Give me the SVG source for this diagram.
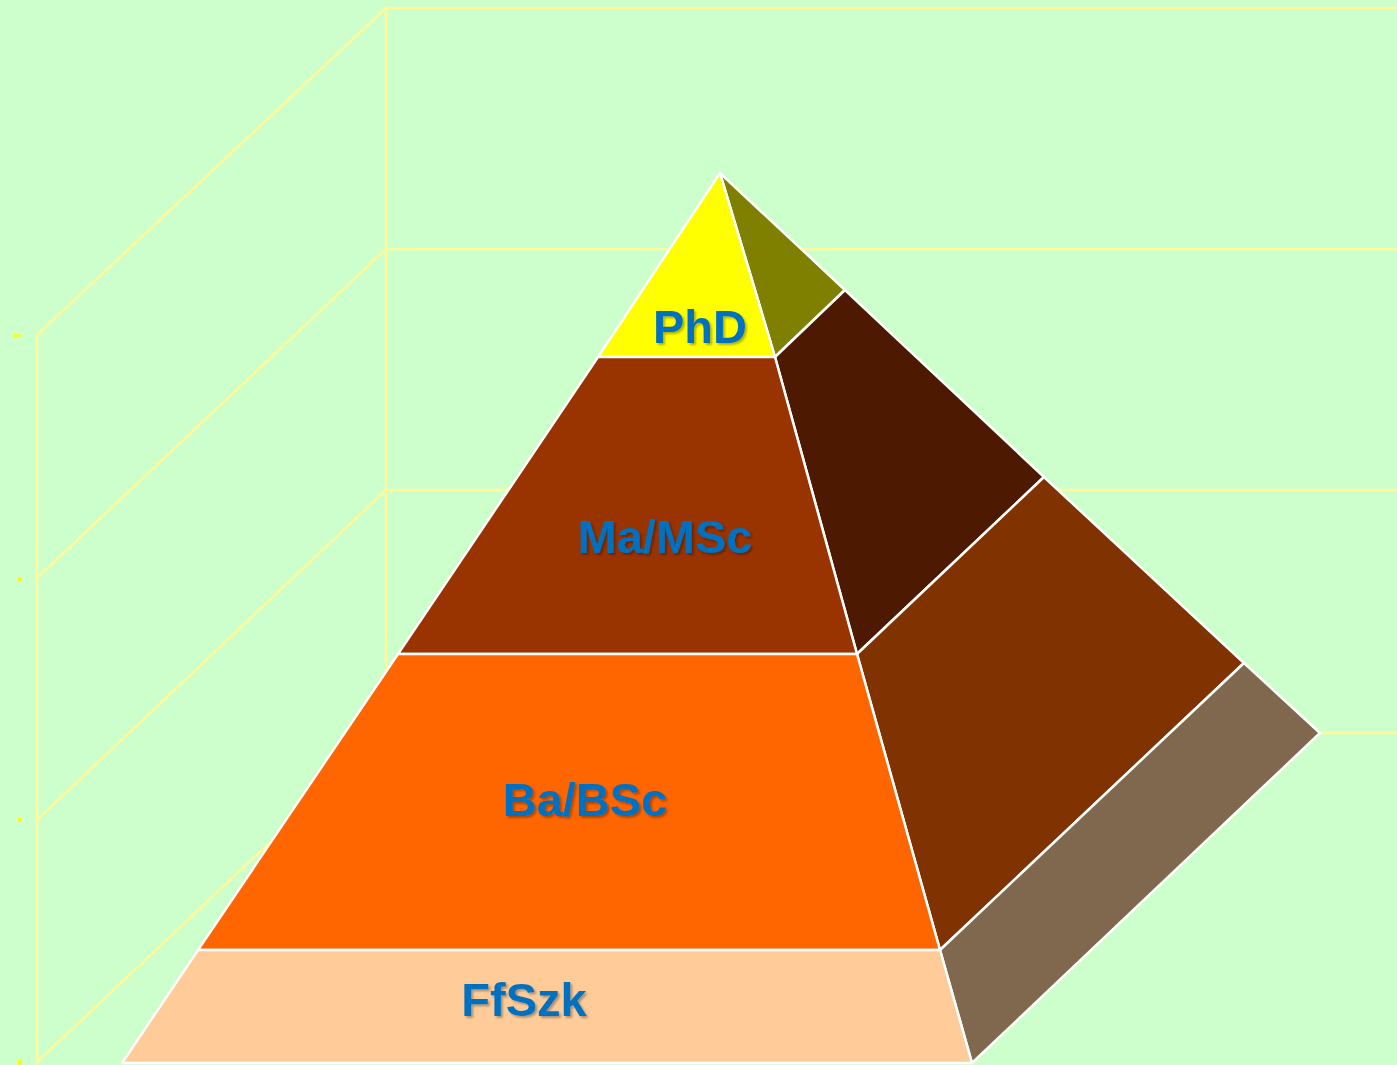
<svg xmlns="http://www.w3.org/2000/svg" width="1397" height="1065" viewBox="0 0 1397 1065">
<style>
.grid{stroke:#FFF99C;stroke-width:2.5;fill:none}
.face{stroke:#FFFFFF;stroke-width:2.5;stroke-linejoin:round}
.lbl{font-family:"Liberation Sans",Arial,sans-serif;font-weight:bold;font-size:47px;fill:#0070C0;text-anchor:middle;filter:url(#sh)}
.tick{fill:#FFFF00}
</style>
<defs>
<filter id="sh" x="-10%" y="-20%" width="130%" height="150%">
<feDropShadow dx="2" dy="2" stdDeviation="1.2" flood-color="#000000" flood-opacity="0.3"/>
</filter>
</defs>
<rect width="1397" height="1065" fill="#CCFFCC"/>
<g id="gridlines">
<line class="grid" x1="386" y1="8" x2="1397" y2="8"/>
<line class="grid" x1="386" y1="249" x2="1397" y2="249"/>
<line class="grid" x1="386" y1="490" x2="1397" y2="490"/>
<line class="grid" x1="386" y1="733" x2="1397" y2="733"/>
<line class="grid" x1="386" y1="8" x2="386" y2="733"/>
<line class="grid" x1="37" y1="335" x2="37" y2="1065"/>
<line class="grid" x1="37" y1="335" x2="386" y2="8"/>
<line class="grid" x1="37" y1="578" x2="386" y2="249"/>
<line class="grid" x1="37" y1="820" x2="386" y2="490"/>
<line class="grid" x1="37" y1="1062" x2="386" y2="733"/>
<rect class="tick" x="14" y="334" width="2.5" height="3"/>
<rect class="tick" x="18" y="334" width="2.5" height="3"/>
<rect class="tick" x="18" y="577" width="3" height="4"/>
<rect class="tick" x="18" y="818" width="3" height="4"/>
<rect class="tick" x="18" y="1060" width="3" height="5"/>
</g>
<g id="side-faces">
<polygon class="face" fill="#808000" points="720,173 845,290 775,357"/>
<polygon class="face" fill="#4D1900" points="775,357 845,290 1044,477 857,654"/>
<polygon class="face" fill="#803300" points="857,654 1044,477 1244,663 940,950"/>
<polygon class="face" fill="#80684F" points="940,950 1244,663 1320,733 972,1063"/>
</g>
<g id="node-phd">
<polygon class="face" fill="#FFFF00" points="720,173 775,357 598,357"/>
<text class="lbl" x="700" y="343">PhD</text>
</g>
<g id="node-ma">
<polygon class="face" fill="#993300" points="598,357 775,357 857,654 398,654"/>
<text class="lbl" x="665" y="553">Ma/MSc</text>
</g>
<g id="node-ba">
<polygon class="face" fill="#FF6600" points="398,654 857,654 940,950 198,950"/>
<text class="lbl" x="585" y="816">Ba/BSc</text>
</g>
<g id="node-ffszk">
<polygon class="face" fill="#FFCC99" points="198,950 940,950 972,1063 122,1063"/>
<text class="lbl" x="524" y="1016">FfSzk</text>
</g>
</svg>
